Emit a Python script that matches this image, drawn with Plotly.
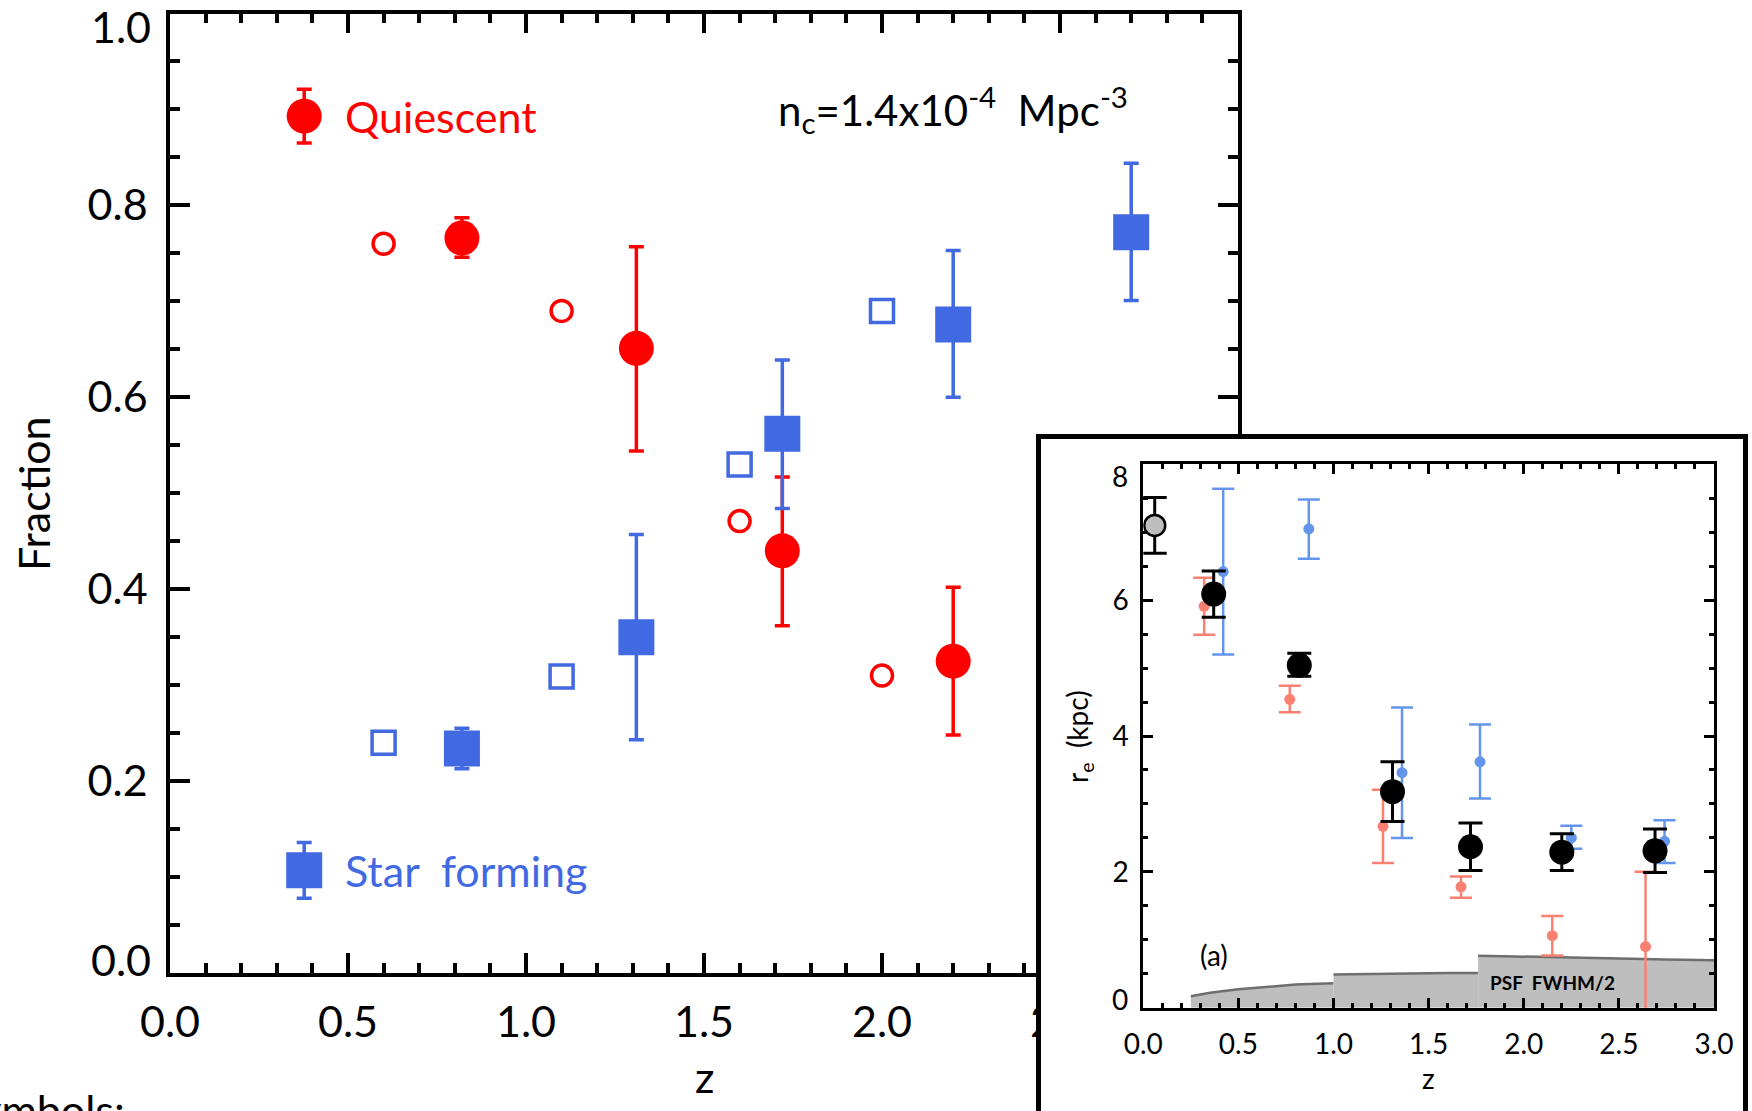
import plotly.graph_objects as go

W, H = 1752, 1111
FONT = "Lato"

RED = "#FF0000"
BLUE = "#4169E1"
LBLUE = "#6495ED"
SALMON = "#FA8072"

# ---------------- main panel data ----------------
z_q = [0.82, 1.31, 1.72, 2.20]
f_q = [0.766, 0.651, 0.440, 0.325]
f_q_hi = [0.787, 0.757, 0.517, 0.402]
f_q_lo = [0.746, 0.544, 0.362, 0.248]

z_sf = [0.82, 1.31, 1.72, 2.20, 2.70]
f_sf = [0.234, 0.350, 0.562, 0.676, 0.772]
f_sf_hi = [0.255, 0.457, 0.639, 0.753, 0.844]
f_sf_lo = [0.213, 0.243, 0.484, 0.600, 0.701]

z_open = [0.60, 1.10, 1.60, 2.00]
f_q_open = [0.760, 0.690, 0.471, 0.310]
f_sf_open = [0.240, 0.309, 0.530, 0.690]

# legend keys (z, fraction, half error)
key_q = (0.377, 0.893, 0.028)
key_sf = (0.377, 0.107, 0.029)

x_ticks_main = [0.0, 0.5, 1.0, 1.5, 2.0, 2.5, 3.0]
y_ticks_main = [0.0, 0.2, 0.4, 0.6, 0.8, 1.0]

# ---------------- inset data ----------------
z_all = [0.37, 0.82, 1.31, 1.72, 2.20, 2.69]
re_all = [6.09, 5.04, 3.18, 2.37, 2.29, 2.31]
re_all_hi = [6.43, 5.22, 3.62, 2.72, 2.56, 2.63]
re_all_lo = [5.75, 4.88, 2.74, 2.02, 2.02, 1.99]

z_blue = [0.42, 0.87, 1.36, 1.77, 2.25, 2.74]
re_blue = [6.42, 7.05, 3.46, 3.62, 2.50, 2.45]
re_blue_hi = [7.64, 7.48, 4.42, 4.17, 2.68, 2.76]
re_blue_lo = [5.20, 6.61, 2.50, 3.08, 2.34, 2.13]

z_red = [0.32, 0.77, 1.26, 1.67, 2.15, 2.64]
re_red = [5.91, 4.54, 2.67, 1.78, 1.06, 0.90]
re_red_hi = [6.33, 4.74, 3.21, 1.93, 1.35, 2.00]
re_red_lo = [5.49, 4.35, 2.13, 1.62, 0.77, -0.30]

z_local = [0.06]
re_local = [7.10]
re_local_hi = [7.51]
re_local_lo = [6.69]

psf1_z = [0.25, 0.35, 0.50, 0.65, 0.80, 1.00]
psf1 = [0.17, 0.22, 0.27, 0.31, 0.34, 0.36]
psf2_z = [1.00, 1.20, 1.40, 1.60, 1.76]
psf2 = [0.49, 0.50, 0.51, 0.51, 0.51]
psf3_z = [1.76, 2.00, 2.25, 2.50, 2.75, 3.00]
psf3 = [0.765, 0.755, 0.74, 0.725, 0.71, 0.70]

x_ticks_in = [0.0, 0.5, 1.0, 1.5, 2.0, 2.5, 3.0]
y_ticks_in = [0, 2, 4, 6, 8]


def up(v, hi):
    return [h - a for a, h in zip(v, hi)]


def dn(v, lo):
    return [a - l for a, l in zip(v, lo)]


def px_x(p):
    return p / W


def px_y(p):
    return 1 - p / H


fig = go.Figure()

# ---- main panel traces (subplot xy) ----
fig.add_trace(go.Scatter(
    x=z_q, y=f_q, mode="markers",
    marker=dict(symbol="circle", size=35, color=RED, line=dict(width=0)),
    error_y=dict(type="data", symmetric=False, array=up(f_q, f_q_hi),
                 arrayminus=dn(f_q, f_q_lo), color=RED, thickness=3.5, width=7.5),
    showlegend=False, hoverinfo="skip"))
fig.add_trace(go.Scatter(
    x=z_sf, y=f_sf, mode="markers",
    marker=dict(symbol="square", size=36, color=BLUE, line=dict(width=0)),
    error_y=dict(type="data", symmetric=False, array=up(f_sf, f_sf_hi),
                 arrayminus=dn(f_sf, f_sf_lo), color=BLUE, thickness=3.5, width=7.5),
    showlegend=False, hoverinfo="skip"))
fig.add_trace(go.Scatter(
    x=z_open, y=f_q_open, mode="markers",
    marker=dict(symbol="circle-open", size=21, color=RED, line=dict(width=3.5, color=RED)),
    showlegend=False, hoverinfo="skip"))
fig.add_trace(go.Scatter(
    x=z_open, y=f_sf_open, mode="markers",
    marker=dict(symbol="square-open", size=23, color=BLUE, line=dict(width=3.5, color=BLUE)),
    showlegend=False, hoverinfo="skip"))
# legend keys
fig.add_trace(go.Scatter(
    x=[key_q[0]], y=[key_q[1]], mode="markers",
    marker=dict(symbol="circle", size=35, color=RED),
    error_y=dict(type="data", array=[key_q[2]], color=RED, thickness=3.5, width=7.5),
    showlegend=False, hoverinfo="skip"))
fig.add_trace(go.Scatter(
    x=[key_sf[0]], y=[key_sf[1]], mode="markers",
    marker=dict(symbol="square", size=36, color=BLUE),
    error_y=dict(type="data", array=[key_sf[2]], color=BLUE, thickness=3.5, width=7.5),
    showlegend=False, hoverinfo="skip"))

# ---- inset frame (subplot x2y2): white panel hiding the main plot ----
fig.add_trace(go.Scatter(
    x=[-0.1, 1.1, 1.1, -0.1, -0.1], y=[-0.1, -0.1, 1.1, 1.1, -0.1],
    mode="lines", fill="toself", fillcolor="white", line=dict(width=0, color="white"),
    xaxis="x2", yaxis="y2", showlegend=False, hoverinfo="skip"))

# ---- inset traces (subplot x3y3) ----
for zz, yy in ((psf1_z, psf1), (psf2_z, psf2), (psf3_z, psf3)):
    fig.add_trace(go.Scatter(
        x=zz, y=yy, mode="lines", fill="tozeroy", fillcolor="#BEBEBE",
        line=dict(color="#6E6E6E", width=2.5),
        xaxis="x3", yaxis="y3", showlegend=False, hoverinfo="skip"))

fig.add_trace(go.Scatter(
    x=z_red, y=re_red, mode="markers",
    marker=dict(symbol="circle", size=11, color=SALMON),
    error_y=dict(type="data", symmetric=False, array=up(re_red, re_red_hi),
                 arrayminus=dn(re_red, re_red_lo), color=SALMON, thickness=2.5, width=11),
    xaxis="x3", yaxis="y3", showlegend=False, hoverinfo="skip"))
fig.add_trace(go.Scatter(
    x=z_blue, y=re_blue, mode="markers",
    marker=dict(symbol="circle", size=11, color=LBLUE),
    error_y=dict(type="data", symmetric=False, array=up(re_blue, re_blue_hi),
                 arrayminus=dn(re_blue, re_blue_lo), color=LBLUE, thickness=2.5, width=11),
    xaxis="x3", yaxis="y3", showlegend=False, hoverinfo="skip"))
fig.add_trace(go.Scatter(
    x=z_all, y=re_all, mode="markers",
    marker=dict(symbol="circle", size=25, color="black"),
    error_y=dict(type="data", symmetric=False, array=up(re_all, re_all_hi),
                 arrayminus=dn(re_all, re_all_lo), color="black", thickness=3, width=12),
    xaxis="x3", yaxis="y3", showlegend=False, hoverinfo="skip"))
fig.add_trace(go.Scatter(
    x=z_local, y=re_local, mode="markers",
    marker=dict(symbol="circle", size=21, color="#BEBEBE", line=dict(color="black", width=2.5)),
    error_y=dict(type="data", symmetric=False, array=up(re_local, re_local_hi),
                 arrayminus=dn(re_local, re_local_lo), color="black", thickness=3, width=12),
    xaxis="x3", yaxis="y3", showlegend=False, hoverinfo="skip"))

# ---------------- axes ----------------
MAIN_FS = 43
IN_FS = 28
main_ax = dict(showline=True, linecolor="black", linewidth=3.5, mirror="ticks",
               ticks="inside", ticklen=20, tickwidth=3.5, tickcolor="black",
               showgrid=False, zeroline=False,
               tickfont=dict(family=FONT, size=MAIN_FS, color="black"))
in_ax = dict(showline=True, linecolor="black", linewidth=3, mirror="ticks",
             ticks="inside", ticklen=10, tickwidth=3, tickcolor="black",
             showgrid=False, zeroline=False,
             tickfont=dict(family=FONT, size=IN_FS, color="black"))

y_main_inner = [v for v in y_ticks_main if v not in (y_ticks_main[0], y_ticks_main[-1])]
y_in_inner = [v for v in y_ticks_in if v not in (y_ticks_in[0], y_ticks_in[-1])]

fig.update_layout(
    width=W, height=H,
    margin=dict(l=0, r=0, t=0, b=0, autoexpand=False),
    paper_bgcolor="white", plot_bgcolor="white",
    font=dict(family=FONT, color="black"),
    showlegend=False,
    xaxis=dict(**main_ax, domain=[px_x(170), px_x(1238)], range=[0, 3],
               tickvals=x_ticks_main, ticktext=[f"{v:.1f}" for v in x_ticks_main],
               ticklabelstandoff=9,
               minor=dict(dtick=0.1, ticklen=10, tickwidth=3.5, tickcolor="black",
                          ticks="inside", showgrid=False),
               anchor="y"),
    yaxis=dict(**main_ax, domain=[px_y(973), px_y(13.5)], range=[0, 1],
               tickvals=y_main_inner, ticktext=[f"{v:.1f}" for v in y_main_inner],
               ticklabelstandoff=10,
               minor=dict(dtick=0.05, ticklen=10, tickwidth=3.5, tickcolor="black",
                          ticks="inside", showgrid=False),
               anchor="x"),
    xaxis2=dict(domain=[px_x(1040.5), px_x(1742.5)], range=[0, 1], side="top",
                showline=True, linecolor="black", linewidth=4.5, mirror=False,
                showticklabels=False, ticks="", showgrid=False, zeroline=False,
                anchor="y2"),
    yaxis2=dict(domain=[0, px_y(439)], range=[0, 1],
                showline=True, linecolor="black", linewidth=4.5, mirror=True,
                showticklabels=False, ticks="", showgrid=False, zeroline=False,
                anchor="x2"),
    xaxis3=dict(**in_ax, domain=[px_x(1143.3), px_x(1714)], range=[0, 3],
                tickvals=x_ticks_in, ticktext=[f"{v:.1f}" for v in x_ticks_in],
                ticklabelstandoff=10,
                minor=dict(dtick=0.1, ticklen=5, tickwidth=3, tickcolor="black",
                           ticks="inside", showgrid=False),
                anchor="y3"),
    yaxis3=dict(**in_ax, domain=[px_y(1007.7), px_y(464.3)], range=[0, 8],
                tickvals=y_in_inner, ticktext=[str(v) for v in y_in_inner],
                ticklabelstandoff=6,
                minor=dict(dtick=0.5, ticklen=5, tickwidth=3, tickcolor="black",
                           ticks="inside", showgrid=False),
                anchor="x3"),
)

ann = []
# end labels of y axes (drawn nudged inward as in the original)
ann.append(dict(x=px_x(153), y=y_ticks_main[-1], xref="paper", yref="y",
                text=f"{y_ticks_main[-1]:.1f}", xanchor="right", yanchor="middle",
                yshift=-13, showarrow=False, font=dict(family=FONT, size=MAIN_FS, color="black")))
ann.append(dict(x=px_x(153), y=y_ticks_main[0], xref="paper", yref="y",
                text=f"{y_ticks_main[0]:.1f}", xanchor="right", yanchor="middle",
                yshift=14, showarrow=False, font=dict(family=FONT, size=MAIN_FS, color="black")))
ann.append(dict(x=px_x(1130), y=y_ticks_in[-1], xref="paper", yref="y3",
                text=str(y_ticks_in[-1]), xanchor="right", yanchor="middle",
                yshift=-12, showarrow=False, font=dict(family=FONT, size=IN_FS, color="black")))
ann.append(dict(x=px_x(1130), y=y_ticks_in[0], xref="paper", yref="y3",
                text=str(y_ticks_in[0]), xanchor="right", yanchor="middle",
                yshift=9, showarrow=False, font=dict(family=FONT, size=IN_FS, color="black")))

# axis titles
ann.append(dict(x=px_x(33), y=px_y(494), xref="paper", yref="paper", text="Fraction",
                textangle=-90, xanchor="center", yanchor="middle", showarrow=False,
                font=dict(family=FONT, size=MAIN_FS, color="black")))
ann.append(dict(x=px_x(704), y=px_y(1076), xref="paper", yref="paper", text="z",
                xanchor="center", yanchor="middle", showarrow=False,
                font=dict(family=FONT, size=MAIN_FS, color="black")))
ann.append(dict(x=px_x(1079), y=px_y(737), xref="paper", yref="paper",
                text="r<sub>e</sub>  (kpc)", textangle=-90,
                xanchor="center", yanchor="middle", showarrow=False,
                font=dict(family=FONT, size=IN_FS, color="black")))
ann.append(dict(x=px_x(1428.7), y=px_y(1078), xref="paper", yref="paper", text="z",
                xanchor="center", yanchor="middle", showarrow=False,
                font=dict(family=FONT, size=IN_FS, color="black")))

# legend texts and density label
ann.append(dict(x=0.486, y=key_q[1], xref="x", yref="y", text="Quiescent",
                xanchor="left", yanchor="middle", showarrow=False,
                font=dict(family=FONT, size=MAIN_FS, color=RED)))
ann.append(dict(x=0.486, y=key_sf[1], xref="x", yref="y", text="Star  forming",
                xanchor="left", yanchor="middle", showarrow=False,
                font=dict(family=FONT, size=MAIN_FS, color=BLUE)))
ann.append(dict(x=2.2, y=0.9, xref="x", yref="y",
                text="n<sub>c</sub>=1.4x10<sup>-4</sup>  Mpc<sup>-3</sup>",
                xanchor="center", yanchor="middle", showarrow=False,
                font=dict(family=FONT, size=42, color="black")))

# inset labels
ann.append(dict(x=0.37, y=0.77, xref="x3", yref="y3", text="(a)",
                xanchor="center", yanchor="middle", showarrow=False,
                font=dict(family=FONT, size=28, color="black")))
ann.append(dict(x=2.15, y=0.37, xref="x3", yref="y3", text="<b>PSF  FWHM/2</b>",
                xanchor="center", yanchor="middle", showarrow=False,
                font=dict(family=FONT, size=19, color="black")))

# caption fragment cut at the page edge
ann.append(dict(x=px_x(126), y=px_y(1083), xref="paper", yref="paper", text="Symbols:",
                xanchor="right", yanchor="top", showarrow=False, borderpad=0,
                font=dict(family=FONT, size=MAIN_FS, color="black")))

fig.update_layout(annotations=ann)
fig.write_html("out.html")
